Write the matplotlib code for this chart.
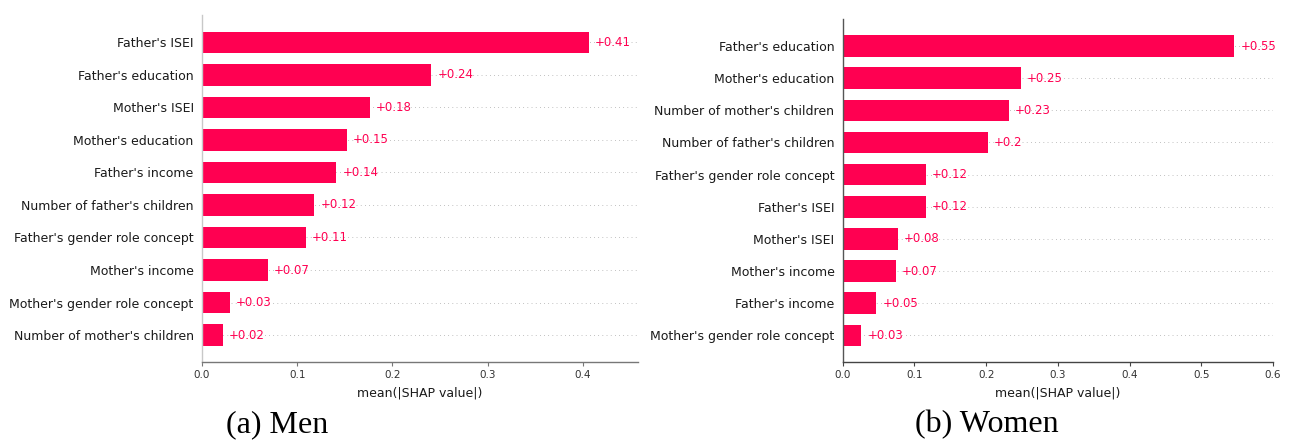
import re
import matplotlib
matplotlib.use("Agg")
import matplotlib.pyplot as plt

# mean(|SHAP value|) per feature, sorted from the most to the least important
men_features = ["Father's ISEI", "Father's education", "Mother's ISEI", "Mother's education",
                "Father's income", "Number of father's children", "Father's gender role concept",
                "Mother's income", "Mother's gender role concept", "Number of mother's children"]
men_values = [0.406, 0.241, 0.176, 0.152, 0.141, 0.118, 0.109, 0.069, 0.029, 0.022]

women_features = ["Father's education", "Mother's education", "Number of mother's children",
                  "Number of father's children", "Father's gender role concept", "Father's ISEI",
                  "Mother's ISEI", "Mother's income", "Father's income", "Mother's gender role concept"]
women_values = [0.546, 0.248, 0.232, 0.202, 0.116, 0.116, 0.077, 0.074, 0.047, 0.026]

men_xticks = [0.0, 0.1, 0.2, 0.3, 0.4]
women_xticks = [0.0, 0.1, 0.2, 0.3, 0.4, 0.5, 0.6]

RED = "#ff0051"


def fmt_value(v):
    s = "%+0.02f" % v
    s = re.sub(r"\.?0+$", "", s)
    return s


def shap_bar(ax, features, values, xticks, xmax, spine_left, spine_bottom):
    y = list(range(len(features)))
    for i in y:
        ax.axhline(i, color="#888888", lw=0.5, dashes=(1, 5), zorder=-1)
    ax.barh(y, values, height=0.67, color=RED, align="center", zorder=2)
    for i, v in zip(y, values):
        ax.text(v + xmax * 0.014, i, fmt_value(v), ha="left", va="center",
                color=RED, fontsize=8.5)
    ax.set_yticks(y)
    ax.set_yticklabels(features, fontsize=9, color="#1a1a1a")
    ax.tick_params(axis="y", length=0, pad=6)
    ax.set_xticks(xticks)
    ax.set_xticklabels(["%.1f" % t for t in xticks], fontsize=7.5, color="#333333")
    ax.tick_params(axis="x", length=3, width=0.8, color=spine_bottom, pad=3)
    ax.set_xlim(0, xmax)
    ax.set_ylim(len(features) - 1 + 0.82, -0.84)
    ax.set_xlabel("mean(|SHAP value|)", fontsize=9, color="#1a1a1a", labelpad=5)
    ax.spines["top"].set_visible(False)
    ax.spines["right"].set_visible(False)
    ax.spines["left"].set_color(spine_left)
    ax.spines["bottom"].set_color(spine_bottom)
    ax.spines["left"].set_linewidth(1.0)
    ax.spines["bottom"].set_linewidth(1.0)


fig = plt.figure(figsize=(12.9, 4.41), dpi=100)
ax_men = fig.add_axes([0.1566, 0.1798, 0.338, 0.786])
ax_women = fig.add_axes([0.6533, 0.1798, 0.3335, 0.777])

shap_bar(ax_men, men_features, men_values, men_xticks, 0.458, "#c8c8c8", "#777777")
shap_bar(ax_women, women_features, women_values, women_xticks, 0.6, "#555555", "#444444")

fig.text(277 / 1290, 0.021, "(a) Men", ha="center", va="baseline",
         family="Liberation Serif", fontsize=23)
fig.text(987 / 1290, 0.021, "(b) Women", ha="center", va="baseline",
         family="Liberation Serif", fontsize=23)

fig.savefig("out.png", dpi=100)
